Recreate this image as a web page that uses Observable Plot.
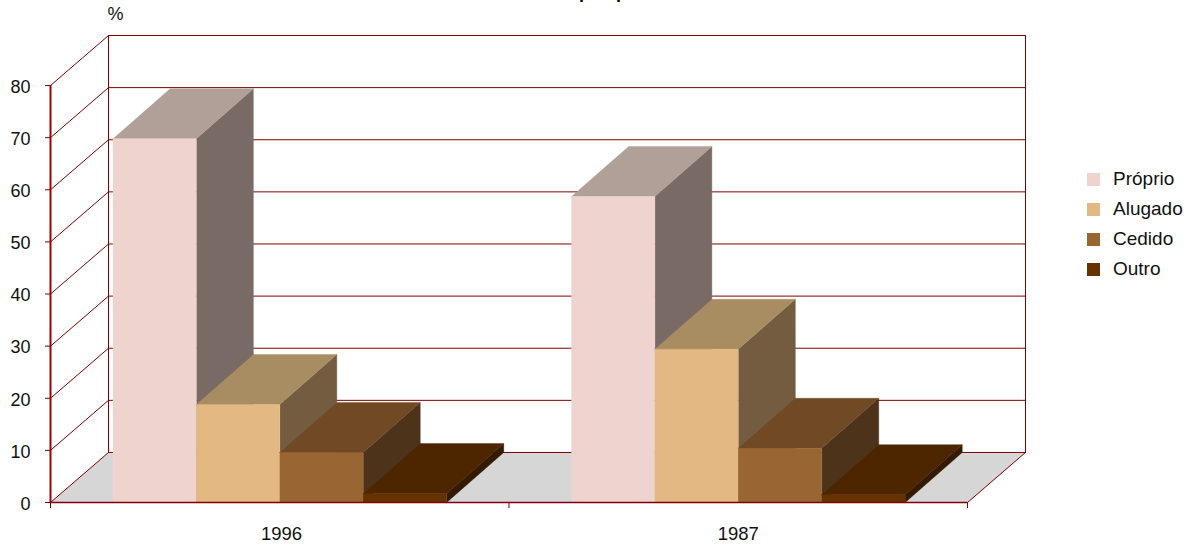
<!DOCTYPE html>
<html>
<head>
<meta charset="utf-8">
<script src="https://cdn.jsdelivr.net/npm/d3@7"></script>
<script src="https://cdn.jsdelivr.net/npm/@observablehq/plot@0.6"></script>
<style>
html,body{margin:0;padding:0;background:#fff;width:1193px;height:545px;overflow:hidden;font-family:"Liberation Sans",Arial,sans-serif}
#wrap{position:relative;width:1193px;height:545px;overflow:hidden}
#title{position:absolute;left:579px;top:-18px;font:bold 18px "Liberation Sans",Arial,sans-serif;color:#000;white-space:pre;word-spacing:21px}
#legend{position:absolute;left:1087px;top:164px;font-size:19px;color:#111}
#legend .row{display:flex;align-items:center;height:30px}
#legend .sw{width:13px;height:13px;margin-right:13px}
</style>
</head>
<body>
<div id="wrap"></div>
<script>
const years = ["1996", "1987"];
const categories = ["Próprio", "Alugado", "Cedido", "Outro"];
const values1996 = [69.8, 18.8, 9.6, 1.7];
const values1987 = [58.7, 29.4, 10.4, 1.5];
const frontColors = ["#efd3cf", "#e3b882", "#996633", "#663300"];
const topColors = ["#b1a098", "#a98d62", "#704a24", "#4d2600"];
const sideColors = ["#7a6a65", "#745c40", "#4d331a", "#331a00"];
const yTicks = [0, 10, 20, 30, 40, 50, 60, 70, 80];
const visibleTitleFragment = "p p";

const lineColor = "#800000";
// Depth of the 3D box, in scale units
const depthX = 0.1265;
const barDepthX = 0.1245;
const depthY = 9.6;
const barWidth = 0.182;
const gap = (1 - barWidth * categories.length) / 2;

const poly = (pts, fill) =>
  Plot.line(pts.map(([x, y]) => ({x, y})), {x: "x", y: "y", fill, stroke: fill, strokeWidth: 0.4});

const series = [values1996, values1987];
const bars = series.flatMap((vals, g) => vals.flatMap((v, i) => {
  const x0 = g + gap + i * barWidth, x1 = x0 + barWidth;
  return [
    poly([[x1, 0], [x1 + barDepthX, depthY], [x1 + barDepthX, v + depthY], [x1, v]], sideColors[i]),
    poly([[x0, v], [x1, v], [x1 + barDepthX, v + depthY], [x0 + barDepthX, v + depthY]], topColors[i]),
    poly([[x0, 0], [x1, 0], [x1, v], [x0, v]], frontColors[i])
  ];
}));

const wallLines = [
  ...yTicks.map(v => [[0, v], [depthX, v + depthY]]),
  [[depthX, depthY], [depthX, 80 + depthY]],
  [[2 + depthX, depthY], [2 + depthX, 80 + depthY]],
  [[2, 0], [2 + depthX, depthY]]
];

const plot = Plot.plot({
  width: 1193,
  height: 545,
  marginLeft: 50,
  marginRight: 168,
  marginTop: 35,
  marginBottom: 43,
  style: {background: "#fff", fontFamily: "'Liberation Sans', Arial, sans-serif", fontSize: "18px", color: "#111"},
  x: {domain: [0, 2 + depthX], axis: null},
  y: {domain: [0, 80 + depthY], axis: null},
  marks: [
    poly([[0, 0], [2, 0], [2 + depthX, depthY], [depthX, depthY]], "#d6d6d6"),
    Plot.ruleY(yTicks, {y: d => d + depthY, x1: depthX, x2: 2 + depthX, stroke: lineColor, strokeWidth: 1}),
    ...wallLines.map(seg => Plot.line(seg.map(([x, y]) => ({x, y})), {x: "x", y: "y", stroke: lineColor, strokeWidth: 1})),
    ...bars,
    Plot.ruleY([0], {x1: 0, x2: 2, stroke: lineColor, strokeWidth: 1.5}),
    Plot.axisY({ticks: yTicks, tickSize: 5, tickFormat: () => "", stroke: lineColor, label: null}),
    Plot.axisY({ticks: yTicks, tickSize: 0, tickPadding: 20, dy: 1.5, label: null, fill: "#111", fontSize: 18}),
    Plot.axisX({ticks: [0, 1, 2], tickSize: 6, tickFormat: () => "", stroke: lineColor, label: null}),
    Plot.axisX({ticks: [0.504, 1.5], tickSize: 0, tickPadding: 24, tickFormat: d => years[Math.floor(d)], label: null, fill: "#111", fontSize: 18.5}),
    Plot.text(["%"], {frameAnchor: "top-left", dx: 57, dy: -21, text: d => d, fontSize: 18, fill: "#111", textAnchor: "start", lineAnchor: "middle"}),
    Plot.ruleX([0], {y1: 0, y2: 80, stroke: "#a00000", strokeWidth: 2})
  ]
});

const wrap = document.getElementById("wrap");
wrap.appendChild(plot);

const title = document.createElement("div");
title.id = "title";
title.textContent = visibleTitleFragment;
wrap.appendChild(title);

const legend = document.createElement("div");
legend.id = "legend";
categories.forEach((c, i) => {
  const row = document.createElement("div");
  row.className = "row";
  const sw = document.createElement("span");
  sw.className = "sw";
  sw.style.background = frontColors[i];
  const t = document.createElement("span");
  t.textContent = c;
  row.append(sw, t);
  legend.appendChild(row);
});
wrap.appendChild(legend);
</script>
</body>
</html>
